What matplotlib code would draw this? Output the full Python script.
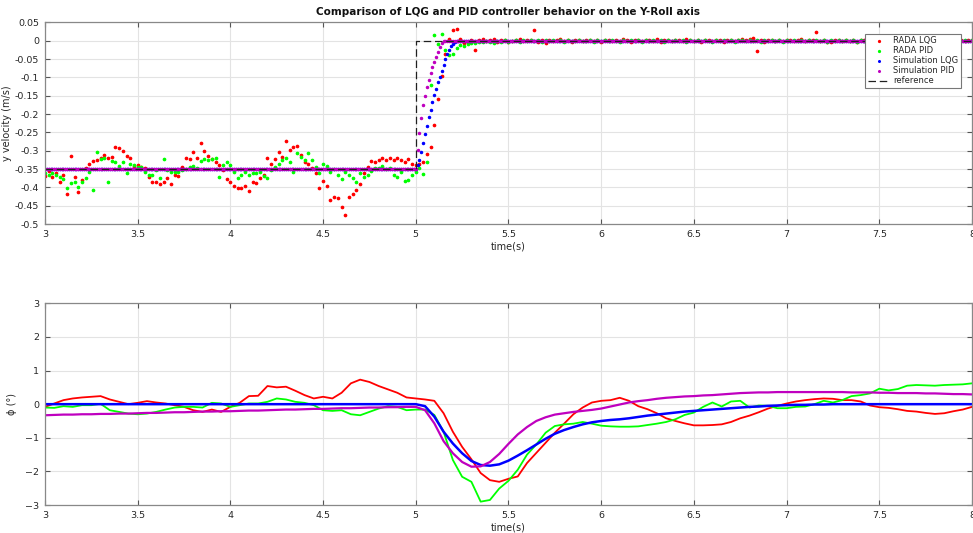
import numpy as np
import matplotlib.pyplot as plt

# sampling grids of the logged signals
t_rada = np.round(3 + 0.02 * np.arange(251), 2)    # RADA measurements, 3..8 s
t_sim = np.round(3 + 0.01 * np.arange(501), 2)     # simulation output, 3..8 s
t_phi = np.round(3 + 0.05 * np.arange(101), 2)     # roll angle traces, 3..8 s

# ---- y velocity, RADA LQG (3.00 .. 5.00 s, then step, then settled)
v_lqg_pre = [
    -0.368, -0.355, -0.371, -0.362, -0.385, -0.365, -0.419, -0.314, -0.371, -0.414,
    -0.380, -0.348, -0.335, -0.328, -0.325, -0.319, -0.312, -0.321, -0.318, -0.290,
    -0.292, -0.301, -0.314, -0.319, -0.341, -0.340, -0.345, -0.348, -0.371, -0.385,
    -0.386, -0.392, -0.385, -0.374, -0.392, -0.366, -0.370, -0.345, -0.319, -0.323,
    -0.303, -0.321, -0.280, -0.301, -0.314, -0.323, -0.330, -0.339, -0.353, -0.377,
    -0.386, -0.395, -0.401, -0.403, -0.395, -0.410, -0.385, -0.388, -0.375, -0.365,
    -0.321, -0.335, -0.323, -0.303, -0.316, -0.274, -0.298, -0.289, -0.286, -0.312,
    -0.330, -0.337, -0.348, -0.362, -0.403, -0.383, -0.395, -0.435, -0.425, -0.430,
    -0.453, -0.475, -0.425, -0.419, -0.407, -0.390, -0.360, -0.344, -0.328, -0.332,
    -0.325, -0.319, -0.325, -0.321, -0.325, -0.319, -0.325, -0.332, -0.323, -0.337,
    -0.339]
v_lqg_step = [-0.335, -0.330, -0.310, -0.290, -0.230, -0.160, -0.095, -0.035,
              0.005, 0.030, 0.033, 0.005, -0.005, -0.003, 0.002]
v_lqg_post = [
    -0.026, 0.003, 0.004, -0.002, 0.002, 0.005, -0.004, 0.001, 0.003, -0.003, -0.001, 0.002, 0.004, -0.002, 0.001,
    0.002, 0.029, -0.003, 0.001, -0.005, 0.003, -0.002, 0.002, 0.004, -0.001, 0.002, -0.003, 0.001, 0.003, -0.002,
    0.001, 0.003, -0.002, 0.002, -0.004, 0.001, 0.003, -0.001, 0.002, -0.002, 0.004, 0.001, -0.003, 0.002, 0.001,
    -0.002, 0.003, 0.001, -0.001, 0.004, -0.003, 0.002, 0.001, -0.002, 0.003, 0.002, -0.001, 0.004, 0.001, -0.002,
    0.002, -0.003, 0.001, 0.003, -0.002, 0.001, 0.002, -0.004, 0.003, 0.001, -0.001, 0.002, 0.004, 0.002, 0.005,
    0.006, -0.027, 0.002, -0.003, 0.001, 0.003, -0.002, 0.002, -0.001, 0.003, 0.001, -0.002, 0.002, 0.004, -0.001,
    0.002, 0.001, 0.023, -0.002, 0.003, -0.003, -0.004, 0.001, 0.002, -0.002, 0.003, -0.001, 0.002, -0.003, 0.001,
    0.002, -0.002, 0.001, 0.003, -0.001, 0.002, -0.002, 0.001, 0.003, -0.002, 0.001, 0.002, -0.001, 0.002, 0.001,
    -0.002, 0.001, 0.003, -0.001, 0.002, 0.001, -0.002, 0.002, 0.001, -0.001, 0.003, 0.001, -0.002, 0.001, 0.002]

# ---- y velocity, RADA PID
v_pid_pre = [
    -0.360, -0.366, -0.362, -0.365, -0.372, -0.377, -0.403, -0.389, -0.385, -0.398,
    -0.386, -0.374, -0.357, -0.407, -0.303, -0.323, -0.319, -0.385, -0.328, -0.330,
    -0.341, -0.330, -0.362, -0.337, -0.339, -0.344, -0.344, -0.357, -0.366, -0.365,
    -0.353, -0.375, -0.323, -0.353, -0.359, -0.357, -0.357, -0.353, -0.350, -0.344,
    -0.343, -0.346, -0.328, -0.323, -0.325, -0.323, -0.319, -0.371, -0.339, -0.332,
    -0.339, -0.357, -0.374, -0.365, -0.359, -0.366, -0.362, -0.362, -0.359, -0.368,
    -0.375, -0.353, -0.344, -0.337, -0.325, -0.319, -0.330, -0.357, -0.307, -0.316,
    -0.325, -0.305, -0.325, -0.344, -0.362, -0.335, -0.341, -0.357, -0.350, -0.366,
    -0.377, -0.357, -0.365, -0.374, -0.385, -0.362, -0.371, -0.365, -0.355, -0.348,
    -0.346, -0.341, -0.350, -0.348, -0.365, -0.371, -0.357, -0.383, -0.380, -0.365,
    -0.357]
v_pid_step = [-0.346, -0.363, -0.330, -0.120, 0.015, -0.010, 0.018, -0.025,
              -0.040, -0.035, -0.020, -0.012, -0.015, -0.008, -0.005]
v_pid_post = [
    -0.005, -0.003, -0.004, -0.002, -0.003, -0.005, -0.001, -0.004, 0.002, -0.003, -0.002, 0.001, -0.003, 0.002, -0.002,
    0.001, -0.002, 0.002, -0.003, 0.001, -0.001, 0.002, -0.002, 0.001, -0.003, 0.002, 0.000, -0.002, 0.001, -0.001,
    -0.002, 0.001, -0.003, 0.002, -0.001, 0.001, -0.002, 0.002, -0.001, -0.003, 0.001, -0.002, 0.002, -0.001, 0.001,
    -0.003, 0.001, -0.001, 0.002, -0.002, 0.001, -0.003, 0.002, -0.001, 0.001, -0.002, 0.002, -0.003, 0.001, -0.001,
    0.002, -0.002, 0.001, -0.001, -0.003, 0.002, -0.001, 0.001, -0.002, 0.002, -0.003, 0.001, 0.003, -0.002, 0.001,
    -0.001, 0.002, -0.003, 0.001, -0.002, 0.002, -0.001, 0.001, -0.003, 0.002, -0.002, 0.001, -0.001, 0.002, -0.002,
    0.001, -0.002, 0.002, -0.001, 0.001, -0.003, 0.002, -0.002, 0.001, -0.001, 0.002, -0.002, 0.001, -0.003, 0.001,
    -0.001, 0.002, -0.002, 0.001, -0.001, 0.002, -0.003, 0.001, -0.002, 0.002, -0.001, 0.001, -0.002, 0.002, -0.001,
    0.001, -0.002, 0.002, -0.001, 0.001, -0.002, 0.001, -0.001, 0.002, -0.002, 0.001, -0.001, 0.002, -0.001, 0.001]

# ---- y velocity, simulations (flat at -0.35 up to 5.00 s, step, then 0)
v_sim_level = -0.35
v_sim_lqg_step = [-0.340, -0.325, -0.304, -0.279, -0.255, -0.232, -0.209, -0.188,
                  -0.168, -0.148, -0.131, -0.114, -0.098, -0.082, -0.066, -0.051,
                  -0.037, -0.025, -0.015, -0.008, -0.003, -0.001, 0.0]
v_sim_pid_step = [-0.297, -0.251, -0.212, -0.176, -0.150, -0.126, -0.107, -0.089,
                  -0.073, -0.057, -0.044, -0.030, -0.017, -0.007, -0.002]

# ---- reference step
ref_t = [3, 5, 5, 8]
ref_v = [-0.35, -0.35, 0, 0]

# ---- roll angle phi (deg), every 0.05 s
phi_lqg = [
    -0.08, 0.02, 0.12, 0.17, 0.20, 0.22, 0.24, 0.14, 0.07, 0.00,
    0.04, 0.09, 0.05, 0.02, -0.03, -0.08, -0.18, -0.23, -0.16, -0.23,
    -0.08, 0.04, 0.24, 0.25, 0.54, 0.50, 0.52, 0.40, 0.27, 0.17,
    0.22, 0.17, 0.34, 0.62, 0.73, 0.66, 0.54, 0.44, 0.34, 0.20,
    0.17, 0.14, 0.10, -0.27, -0.82, -1.27, -1.64, -2.05, -2.26, -2.31,
    -2.22, -2.15, -1.75, -1.45, -1.15, -0.85, -0.58, -0.30, -0.10, 0.05,
    0.10, 0.12, 0.19, 0.10, -0.06, -0.15, -0.27, -0.42, -0.50, -0.57,
    -0.63, -0.63, -0.62, -0.60, -0.53, -0.42, -0.34, -0.24, -0.13, -0.05,
    0.02, 0.08, 0.12, 0.15, 0.17, 0.16, 0.12, 0.12, 0.08, -0.04,
    -0.09, -0.11, -0.15, -0.20, -0.22, -0.26, -0.29, -0.27, -0.21, -0.16,
    -0.08]
phi_pid = [
    -0.10, -0.11, -0.06, -0.08, -0.03, -0.03, 0.01, -0.18, -0.23, -0.28,
    -0.30, -0.28, -0.23, -0.16, -0.10, -0.08, -0.08, -0.10, 0.04, 0.02,
    -0.08, -0.03, 0.02, 0.02, 0.07, 0.17, 0.14, 0.07, 0.04, -0.03,
    -0.18, -0.20, -0.18, -0.30, -0.33, -0.23, -0.13, -0.06, -0.08, -0.18,
    -0.16, -0.16, -0.32, -0.82, -1.66, -2.16, -2.31, -2.90, -2.85, -2.51,
    -2.28, -1.95, -1.50, -1.20, -0.85, -0.65, -0.60, -0.58, -0.53, -0.58,
    -0.64, -0.66, -0.67, -0.67, -0.66, -0.62, -0.58, -0.53, -0.45, -0.32,
    -0.25, -0.08, 0.05, -0.07, 0.08, 0.10, -0.10, -0.04, -0.05, -0.12,
    -0.12, -0.08, -0.07, 0.00, 0.10, 0.05, 0.12, 0.24, 0.27, 0.32,
    0.46, 0.41, 0.45, 0.55, 0.57, 0.56, 0.55, 0.57, 0.58, 0.59,
    0.62]
phi_sim_lqg = [0.0] * 41 + [
    -0.06, -0.37, -0.82, -1.17, -1.46, -1.69, -1.81, -1.83, -1.79,
    -1.68, -1.53, -1.37, -1.20, -1.03, -0.88, -0.77, -0.68, -0.60, -0.54,
    -0.50, -0.47, -0.45, -0.42, -0.38, -0.34, -0.31, -0.28, -0.25, -0.22,
    -0.20, -0.18, -0.16, -0.14, -0.12, -0.10, -0.08, -0.07, -0.05, -0.04,
    -0.03, -0.02, -0.02, -0.01, -0.01, 0.0] + [0.0] * 15
phi_sim_pid = [
    -0.33, -0.32, -0.31, -0.31, -0.30, -0.30, -0.29, -0.29, -0.28, -0.28,
    -0.27, -0.26, -0.26, -0.25, -0.24, -0.24, -0.23, -0.22, -0.22, -0.21,
    -0.21, -0.20, -0.19, -0.19, -0.18, -0.17, -0.16, -0.16, -0.15, -0.14,
    -0.14, -0.13, -0.12, -0.12, -0.11, -0.10, -0.10, -0.09, -0.09, -0.08,
    -0.08, -0.18, -0.57, -1.10, -1.46, -1.72, -1.86, -1.85, -1.72, -1.48,
    -1.18, -0.90, -0.68, -0.50, -0.39, -0.31, -0.27, -0.23, -0.20, -0.17,
    -0.13, -0.07, -0.01, 0.05, 0.09, 0.12, 0.16, 0.19, 0.21, 0.23,
    0.24, 0.26, 0.27, 0.29, 0.31, 0.33, 0.34, 0.35, 0.35, 0.36,
    0.36, 0.36, 0.36, 0.36, 0.36, 0.36, 0.36, 0.35, 0.35, 0.35,
    0.34, 0.34, 0.33, 0.33, 0.33, 0.32, 0.32, 0.31, 0.30, 0.30,
    0.29]

v_lqg = np.r_[v_lqg_pre, v_lqg_step, v_lqg_post]
v_pid = np.r_[v_pid_pre, v_pid_step, v_pid_post]
n_pre = int(np.sum(t_sim <= 5.0))
v_sim_lqg = np.r_[np.full(n_pre, v_sim_level), v_sim_lqg_step,
                  np.zeros(len(t_sim) - n_pre - len(v_sim_lqg_step))]
v_sim_pid = np.r_[np.full(n_pre, v_sim_level), v_sim_pid_step,
                  np.zeros(len(t_sim) - n_pre - len(v_sim_pid_step))]


def fmt(vals):
    # matlab style tick text, no "-0"
    return [f'{v + 0.0:g}' if abs(v) > 1e-9 else '0' for v in vals]


txt = '#262626'
fig = plt.figure(figsize=(9.73, 5.33), dpi=100)
ax1 = fig.add_axes([0.0462, 0.5797, 0.9528, 0.3784])
ax2 = fig.add_axes([0.0462, 0.0525, 0.9528, 0.3784])

ax1.plot(t_rada, v_lqg, '.', color='r', ms=3.3, label='RADA LQG')
ax1.plot(t_rada, v_pid, '.', color='#00ff00', ms=3.3, label='RADA PID')
ax1.plot(t_sim, v_sim_lqg, '.', color='b', ms=3, label='Simulation LQG')
ax1.plot(t_sim, v_sim_pid, '.', color='m', ms=3, label='Simulation PID')
ax1.plot(ref_t, ref_v, '--', color='#202020', lw=0.9, dashes=(6, 3), label='reference')

ax2.plot(t_phi, phi_lqg, '-', color='r', lw=1.3)
ax2.plot(t_phi, phi_pid, '-', color='#00ff00', lw=1.3)
ax2.plot(t_phi, phi_sim_lqg, '-', color='b', lw=1.8)
ax2.plot(t_phi, phi_sim_pid, '-', color='m', lw=1.6)

xt = np.arange(3, 8.01, 0.5)
for ax in (ax1, ax2):
    ax.set_xlim(3, 8)
    ax.set_xticks(xt)
    ax.set_xticklabels(fmt(xt))
    ax.grid(True, color='#e3e3e3', lw=0.8)
    ax.set_axisbelow(True)
    ax.tick_params(direction='in', length=3.5, width=0.8, labelsize=6.8,
                   colors='#555555', labelcolor=txt, top=True, right=True, pad=4)
    for s in ax.spines.values():
        s.set_color('#888888')
        s.set_linewidth(0.9)
    ax.set_xlabel('time(s)', fontsize=7, color=txt, labelpad=2)

yt = np.round(np.arange(-0.5, 0.051, 0.05), 2)
ax1.set_ylim(-0.5, 0.05)
ax1.set_yticks(yt)
ax1.set_yticklabels(fmt(yt))
ax1.set_ylabel('y velocity (m/s)', fontsize=7, color=txt, labelpad=2)
ax1.set_title('Comparison of LQG and PID controller behavior on the Y-Roll axis',
              fontsize=7.5, fontweight='bold', color='#111111', pad=5)

ax2.set_ylim(-3, 3)
ax2.set_yticks(range(-3, 4))
ax2.set_ylabel('ϕ (°)', fontsize=7, color=txt, labelpad=6)

leg = ax1.legend(loc='upper right', fontsize=6, numpoints=1, handlelength=2.6,
                 bbox_to_anchor=(0.993, 0.965), labelspacing=0.12, handletextpad=0.4,
                 fancybox=False, framealpha=1, edgecolor='#777777', borderpad=0.35,
                 markerscale=0.8)
leg.get_frame().set_linewidth(0.8)
for t in leg.get_texts():
    t.set_color(txt)

fig.savefig('out.png', dpi=100)
